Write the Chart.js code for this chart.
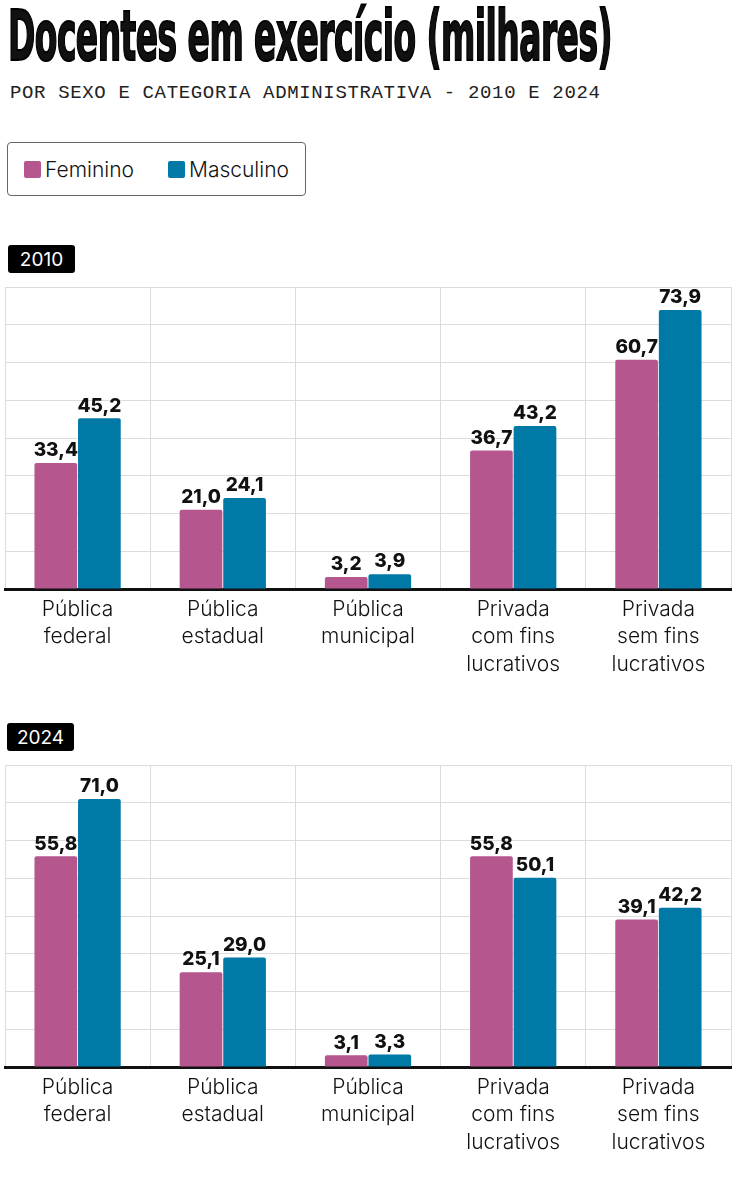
<!DOCTYPE html>
<html lang="pt">
<head>
    <meta charset="UTF-8">
    <title>Docentes em exercício</title>
    <style>
        *{box-sizing:border-box}
        body{margin:0;width:736px;height:1200px;position:relative;background:#fff;color:#111;font-family:Inter,'Noto Sans',sans-serif}
        .abs{position:absolute}
        #title{left:8px;top:1px;margin:0;font-family:'Liberation Sans Narrow','DejaVu Sans Condensed',sans-serif;font-weight:bold;font-size:70px;line-height:1;white-space:nowrap;transform-origin:0 0;letter-spacing:-1px;-webkit-text-stroke:2px #000}
        #subtitle{left:10px;top:84px;font-family:'Liberation Mono',monospace;font-size:19px;letter-spacing:0.65px;line-height:1;white-space:nowrap;color:#222}
        #legend{left:7px;top:142px;width:299px;height:54px;border:1px solid #666;border-radius:4px;display:flex;align-items:center;padding-left:16px;font-size:21px;font-weight:300}
        .sw{width:17px;height:17px;border-radius:2px;margin-right:4px}
        .item{display:flex;align-items:center;margin-right:34px}
        .tag{background:#000;color:#fff;font-size:19px;width:67px;height:28px;border-radius:3px;display:flex;align-items:center;justify-content:center}
        .box{left:0;width:736px;height:400px}
    </style>
    <script src="https://cdn.jsdelivr.net/npm/chart.js@4.4.1/dist/chart.umd.min.js"></script>
</head>
<body>
    <h1 id="title" class="abs"><span id="title-text">Docentes em exercício (milhares)</span></h1>
    <div id="subtitle" class="abs">POR SEXO E CATEGORIA ADMINISTRATIVA - 2010 E 2024</div>

    <div id="legend" class="abs">
        <div class="item"><div class="sw" style="background:#b5568f"></div>Feminino</div>
        <div class="item"><div class="sw" style="background:#0079a6"></div>Masculino</div>
    </div>

    <div class="tag abs" style="left:8px;top:245px">2010</div>
    <div class="box abs" style="top:280px"><canvas id="chart-2010"></canvas></div>

    <div class="tag abs" style="left:7px;top:723px">2024</div>
    <div class="box abs" style="top:758px"><canvas id="chart-2024"></canvas></div>

    <script>
        // Data
        const categories = [
            ['Pública', 'federal'],
            ['Pública', 'estadual'],
            ['Pública', 'municipal'],
            ['Privada', 'com fins', 'lucrativos'],
            ['Privada', 'sem fins', 'lucrativos']
        ];
        const feminino2010 = [33.4, 21.0, 3.2, 36.7, 60.7];
        const masculino2010 = [45.2, 24.1, 3.9, 43.2, 73.9];
        const feminino2024 = [55.8, 25.1, 3.1, 55.8, 39.1];
        const masculino2024 = [71.0, 29.0, 3.3, 50.1, 42.2];

        const PINK = '#b5568f';
        const BLUE = '#0079a6';

        // Squeeze the title to the width of the original
        const titleText = document.getElementById('title-text');
        const titleEl = document.getElementById('title');
        titleEl.style.transform = 'scaleX(' + (604 / titleText.getBoundingClientRect().width) + ')';

        function fmt(v) {
            return v.toFixed(1).replace('.', ',');
        }

        // Value labels above the bars
        const valueLabels = {
            id: 'valueLabels',
            afterDatasetsDraw(chart) {
                const ctx = chart.ctx;
                ctx.save();
                ctx.font = '800 19px Inter';
                ctx.fillStyle = '#111';
                ctx.textAlign = 'center';
                ctx.textBaseline = 'bottom';
                chart.data.datasets.forEach((ds, i) => {
                    chart.getDatasetMeta(i).data.forEach((bar, j) => {
                        ctx.fillText(fmt(ds.data[j]), bar.x, bar.y - 3);
                    });
                });
                ctx.restore();
            }
        };

        function makeChart(id, fem, masc) {
            const bar = {
                categoryPercentage: 0.6,
                barPercentage: 0.98,
                borderRadius: {topLeft: 2, topRight: 2},
                borderSkipped: 'start'
            };
            return new Chart(document.getElementById(id), {
                type: 'bar',
                data: {
                    labels: categories,
                    datasets: [
                        Object.assign({label: 'Feminino', data: fem, backgroundColor: PINK}, bar),
                        Object.assign({label: 'Masculino', data: masc, backgroundColor: BLUE}, bar)
                    ]
                },
                options: {
                    responsive: true,
                    maintainAspectRatio: false,
                    animation: false,
                    layout: {padding: {left: 5, right: 5, top: 7, bottom: 0}},
                    plugins: {legend: {display: false}, tooltip: {enabled: false}},
                    scales: {
                        x: {
                            grid: {color: '#dcdcdc', offset: true, drawTicks: false},
                            border: {color: '#111', width: 3},
                            ticks: {
                                color: '#111',
                                padding: 7,
                                maxRotation: 0,
                                autoSkip: false,
                                font: {family: 'Inter', size: 21, weight: 300, lineHeight: 1.3}
                            },
                            afterFit: s => { s.height = 91; }
                        },
                        y: {
                            min: 0,
                            max: 80,
                            ticks: {display: false, stepSize: 10},
                            grid: {color: '#dcdcdc', drawTicks: false},
                            border: {display: false}
                        }
                    }
                },
                plugins: [valueLabels]
            });
        }

        makeChart('chart-2010', feminino2010, masculino2010);
        makeChart('chart-2024', feminino2024, masculino2024);
    </script>
</body>
</html>
